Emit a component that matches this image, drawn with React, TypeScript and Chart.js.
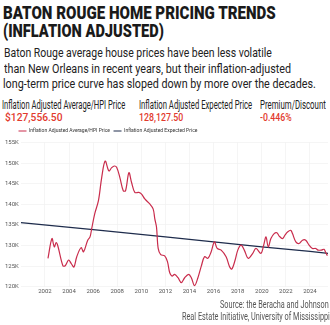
import React, { useEffect, useLayoutEffect, useRef } from "react";
import { Chart, registerables } from "chart.js";

Chart.register(...registerables);

// ---------- DATA ----------
const titleLines = ["BATON ROUGE HOME PRICING TRENDS", "(INFLATION ADJUSTED)"];
const subtitleLines = [
  "Baton Rouge average house prices have been less volatile",
  "than New Orleans in recent years, but their inflation-adjusted",
  "long-term price curve has sloped down by more over the decades.",
];
const headerLabels = [
  "Inflation Adjusted Average/HPI Price",
  "Inflation Adjusted Expected Price",
  "Premium/Discount",
];
const headerValues = ["$127,556.50", "128,127.50", "-0.446%"];
const sourceLines = [
  "Source: the Beracha and Johnson",
  "Real Estate Initiative, University of Mississippi",
];
const seriesNames = [
  "Inflation Adjusted Average/HPI Price",
  "Inflation Adjusted Expected Price",
];

const hpiYears = [
  2002.25, 2002.58, 2002.77, 2002.93, 2003.07, 2003.49, 2003.68, 2003.96, 2004.17, 2004.4,
  2004.64, 2005.0, 2005.2, 2005.55, 2005.74, 2005.88, 2006.13, 2006.44, 2006.71, 2007.0,
  2007.31, 2007.54, 2007.76, 2007.95, 2008.22, 2008.5, 2008.69, 2008.97, 2009.19, 2009.46,
  2009.79, 2010.02, 2010.29, 2010.7, 2010.98, 2011.12, 2011.26, 2011.4, 2011.61, 2011.94,
  2012.17, 2012.36, 2012.55, 2012.77, 2013.05, 2013.32, 2013.6, 2013.93, 2014.15, 2014.42,
  2014.7, 2014.98, 2015.25, 2015.53, 2015.8, 2016.07, 2016.3, 2016.63, 2017.04, 2017.31,
  2017.51, 2017.79, 2018.01, 2018.28, 2018.55, 2018.88, 2019.25, 2019.52, 2019.93, 2020.16,
  2020.35, 2020.54, 2020.76, 2021.03, 2021.26, 2021.45, 2021.73, 2021.92, 2022.14, 2022.41,
  2022.55, 2022.83, 2023.1, 2023.38, 2023.65, 2023.93, 2024.21, 2024.48, 2024.67, 2024.95,
  2025.17, 2025.31, 2025.45,
];
const hpiPriceK = [
  126.9, 131.7, 129.7, 130.7, 129.9, 125.1, 125.1, 126.5, 125.7, 124.8,
  127.3, 129.5, 128.5, 131.3, 132.1, 134.1, 137.7, 140.9, 146.5, 150.5,
  148.1, 148.9, 149.3, 149.0, 146.5, 143.3, 143.3, 147.7, 145.3, 142.9,
  142.9, 142.5, 141.3, 140.1, 138.9, 136.5, 134.5, 129.3, 127.8, 127.5,
  126.1, 123.4, 122.6, 123.0, 122.2, 121.0, 122.2, 123.0, 122.2, 120.3,
  122.2, 125.0, 127.3, 126.9, 128.5, 130.9, 129.3, 128.9, 127.3, 125.0,
  124.3, 126.5, 128.9, 130.1, 128.9, 126.9, 128.1, 129.3, 128.1, 130.1,
  132.1, 129.7, 131.7, 132.9, 133.1, 132.3, 131.7, 132.5, 133.3, 133.7,
  132.9, 130.9, 130.5, 131.3, 131.3, 130.1, 129.3, 129.3, 128.9, 128.9,
  129.1, 128.3, 127.56,
];
const trendYears = [2000, 2006, 2012, 2016, 2020, 2024, 2025.5];
const trendPriceK = [135.55, 133.85, 132.1, 130.9, 129.7, 128.6, 128.13];

const xTickYears = [2002, 2004, 2006, 2008, 2010, 2012, 2014, 2016, 2018, 2020, 2022, 2024];
const yTicksK = [120, 125, 130, 135, 140, 145, 150, 155];

// ---------- STYLE ----------
const RED = "#c92c4c";
const NAVY = "#1e2c4c";
const VALUE_RED = "#e23a2e";
const FONT = "Roboto, 'Liberation Sans', sans-serif";

type FitProps = {
  text: string;
  left: number;
  top: number;
  width: number;
  size: number;
  weight?: number;
  color: string;
};

function FitText({ text, left, top, width, size, weight = 400, color }: FitProps) {
  const ref = useRef<HTMLDivElement>(null);
  useLayoutEffect(() => {
    const fit = () => {
      const el = ref.current;
      if (!el) return;
      const w = el.offsetWidth;
      if (w > 0) el.style.transform = `scaleX(${width / w})`;
    };
    fit();
    const fonts = (document as any).fonts;
    if (fonts && fonts.ready) fonts.ready.then(fit);
  }, [text, width, size]);
  return (
    <div
      ref={ref}
      style={{
        position: "absolute",
        left,
        top,
        fontSize: size,
        lineHeight: `${size}px`,
        fontWeight: weight,
        color,
        fontFamily: FONT,
        whiteSpace: "nowrap",
        transformOrigin: "0 0",
      }}
    >
      {text}
    </div>
  );
}

const shiftLegend = {
  id: "shiftLegend",
  afterLayout(chart: any) {
    const l = chart.legend;
    if (l) {
      l.left += 12;
      l.right += 12;
      l.top += 1;
      l.bottom += 1;
    }
  },
};

function PriceChart() {
  const canvasRef = useRef<HTMLCanvasElement>(null);
  useEffect(() => {
    const canvas = canvasRef.current;
    if (!canvas) return;
    const chart = new Chart(canvas, {
      type: "line",
      data: {
        datasets: [
          {
            label: seriesNames[0],
            data: hpiYears.map((x, i) => ({ x, y: hpiPriceK[i] })),
            borderColor: RED,
            backgroundColor: RED,
            borderWidth: 1.2,
            pointRadius: 0,
            tension: 0.35,
          },
          {
            label: seriesNames[1],
            data: trendYears.map((x, i) => ({ x, y: trendPriceK[i] })),
            borderColor: NAVY,
            backgroundColor: NAVY,
            borderWidth: 1.2,
            pointRadius: 0,
            tension: 0,
          },
        ],
      },
      options: {
        animation: false,
        responsive: false,
        devicePixelRatio: 1,
        layout: { padding: { left: 3, right: 2, top: 0, bottom: 4 } },
        plugins: {
          legend: {
            position: "top",
            align: "start",
            labels: {
              usePointStyle: true,
              pointStyle: "line",
              pointStyleWidth: 8,
              boxHeight: 5,
              padding: 3.5,
              color: "#333",
              font: { size: 5, family: FONT },
            },
          },
          tooltip: { enabled: false },
        },
        scales: {
          x: {
            type: "linear",
            min: 2000,
            max: 2025.5,
            afterBuildTicks: (s: any) => {
              s.ticks = xTickYears.map((v) => ({ value: v }));
            },
            ticks: {
              autoSkip: false,
              maxRotation: 0,
              padding: 1,
              color: "#555",
              font: { size: 6, family: FONT },
              callback: (v: any) => String(v),
            },
            grid: { color: "#f0f0f0", lineWidth: 0.7, drawTicks: false },
            border: { display: false },
          },
          y: {
            min: 120,
            max: 155,
            afterBuildTicks: (s: any) => {
              s.ticks = yTicksK.map((v) => ({ value: v }));
            },
            ticks: {
              padding: 2,
              color: "#555",
              font: { size: 6, family: FONT },
              callback: (v: any) => `${v}K`,
            },
            grid: { color: "#f0f0f0", lineWidth: 0.7, drawTicks: false },
            border: { display: false },
          },
        },
      },
      plugins: [shiftLegend],
    });
    return () => chart.destroy();
  }, []);
  return (
    <canvas
      ref={canvasRef}
      width={330}
      height={176}
      style={{ position: "absolute", left: 0, top: 124, width: 330, height: 176 }}
    />
  );
}

export default function App() {
  return (
    <div
      style={{
        position: "absolute",
        left: 0,
        top: 0,
        width: 330,
        height: 325,
        background: "#fff",
        overflow: "hidden",
      }}
    >
      <FitText text={titleLines[0]} left={3} top={3} width={273} size={19} weight={900} color="#1a1a1a" />
      <FitText text={titleLines[1]} left={3} top={21.3} width={160.5} size={19} weight={900} color="#1a1a1a" />
      <FitText text={subtitleLines[0]} left={4} top={46.4} width={268} size={13} color="#222" />
      <FitText text={subtitleLines[1]} left={4} top={61.8} width={287} size={13} color="#222" />
      <FitText text={subtitleLines[2]} left={2.7} top={76.8} width={312.5} size={13} color="#222" />
      <FitText text={headerLabels[0]} left={2} top={98.9} width={123} size={12} color="#222" />
      <FitText text={headerLabels[1]} left={139.3} top={98.9} width={113} size={12} color="#222" />
      <FitText text={headerLabels[2]} left={260} top={98.9} width={66} size={12} color="#222" />
      <FitText text={headerValues[0]} left={5} top={112.2} width={57.7} size={11} weight={500} color={VALUE_RED} />
      <FitText text={headerValues[1]} left={139.3} top={112.2} width={44.7} size={11} weight={500} color={VALUE_RED} />
      <FitText text={headerValues[2]} left={260} top={112.2} width={31.7} size={11} weight={500} color={VALUE_RED} />
      <PriceChart />
      <FitText text={sourceLines[0]} left={220} top={298.6} width={108.5} size={11.5} color="#555" />
      <FitText text={sourceLines[1]} left={181.7} top={311} width={148} size={11.5} color="#555" />
    </div>
  );
}
